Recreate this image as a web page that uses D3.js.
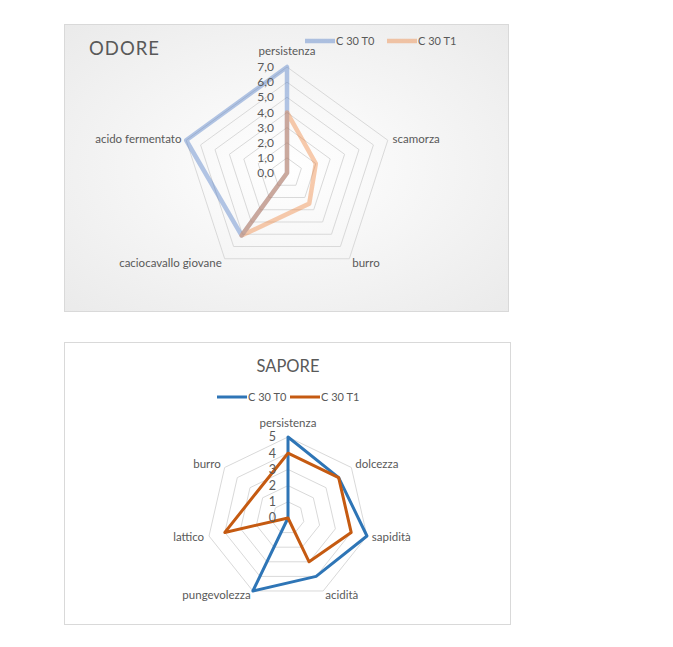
<!DOCTYPE html>
<html>
<head>
<meta charset="utf-8">
<title>Odore / Sapore</title>
<script src="https://cdn.jsdelivr.net/npm/d3@7"></script>
<style>
body{
  margin:0;
  background:#fff}

svg{
  display:block}

text{
  font-family: Lato, "Open Sans", sans-serif;
  fill:#595959}

.ring{
  fill:none;
  stroke:#d9d9d9;
  stroke-width:1}
</style>
</head>
<body>
<script>
// Data.
const seriesNames = ['C 30 T0', 'C 30 T1']

const odoreAxes = ['persistenza', 'scamorza', 'burro', 'caciocavallo giovane', 'acido fermentato']
const odoreT0 = [7, 0, 0, 5.1, 7]
const odoreT1 = [4, 2, 2.5, 5.1, 0]
const odoreTicks = [0, 1, 2, 3, 4, 5, 6, 7]

const saporeAxes = ['persistenza', 'dolcezza', 'sapidità', 'acidità', 'pungevolezza', 'lattico', 'burro']
const saporeT0 = [5, 4, 5, 4, 5, 0, 0]
const saporeT1 = [4, 4, 4, 3, 0, 4, 2.5]
const saporeTicks = [0, 1, 2, 3, 4, 5]

const svg = d3.select('body')
  .append('svg')
    .attr('width', 673)
    .attr('height', 647)

// Background gradient for the top chart.
const grad = svg.append('defs')
  .append('radialGradient')
    .attr('id', 'bg')
    .attr('cx', '50%').attr('cy', '50%').attr('r', '75%')
grad.append('stop').attr('offset', '0%').attr('stop-color', '#ffffff')
grad.append('stop').attr('offset', '100%').attr('stop-color', '#e9e9e9')

// Draw one radar chart.
const drawRadar = opt => {
  const g = svg.append('g')
  const n = opt.axes.length
  const r = d3.scaleLinear().domain([0, d3.max(opt.ticks)]).range([0, opt.radius])
  const angle = d3.scaleLinear().domain([0, n]).range([0, 2 * Math.PI])
  const pt = (i, v) => [opt.cx + r(v) * Math.sin(angle(i)), opt.cy - r(v) * Math.cos(angle(i))]

  // Rings.
  g.selectAll('.ring')
    .data(opt.ticks.filter(t => t > 0))
    .enter().append('polygon')
      .attr('class', 'ring')
      .attr('points', t => d3.range(n).map(i => pt(i, t).join(',')).join(' '))

  // Series.
  const line = d3.line().curve(d3.curveLinearClosed)
  opt.series.forEach((s, k) => {
    g.append('path')
      .attr('d', line(s.map((v, i) => pt(i, v))))
      .style('fill', 'none')
      .style('stroke', opt.colors[k])
      .style('stroke-opacity', opt.opacity)
      .style('stroke-width', opt.lineWidth)
      .style('stroke-linejoin', 'round')
      .style('stroke-linecap', 'round')
  })

  // Tick labels.
  g.selectAll('.tick')
    .data(opt.ticks)
    .enter().append('text')
      .attr('x', opt.cx - opt.tickGap)
      .attr('y', t => opt.cy - r(t))
      .attr('dy', '0.35em')
      .style('text-anchor', 'end')
      .style('font-size', opt.tickSize + 'px')
      .text(opt.tickFormat)

  // Category labels.
  const lr = opt.radius + 5
  g.selectAll('.cat')
    .data(opt.axes)
    .enter().append('text')
      .attr('x', (d, i) => opt.cx + lr * Math.sin(angle(i)))
      .attr('y', (d, i) => i === 0 ? opt.cy - opt.radius - opt.topGap : opt.cy - lr * Math.cos(angle(i)) + 4)
      .style('text-anchor', (d, i) => {
        const s = Math.sin(angle(i))
        return Math.abs(s) < 0.05 ? 'middle' : (s > 0 ? 'start' : 'end')
      })
      .style('font-size', '11.5px')
      .text(d => d)
}

// Legend.
const drawLegend = (x, y, gap, colors, opacity, width) => {
  seriesNames.forEach((name, k) => {
    const x0 = x + k * gap
    svg.append('line')
      .attr('x1', x0).attr('x2', x0 + 30)
      .attr('y1', y).attr('y2', y)
      .style('stroke', colors[k])
      .style('stroke-opacity', opacity)
      .style('stroke-width', width)
    svg.append('text')
      .attr('x', x0 + 31)
      .attr('y', y + 4)
      .style('font-size', '11px')
      .text(name)
  })
}

// ODORE chart.
svg.append('rect')
  .attr('x', 64.5).attr('y', 24.5)
  .attr('width', 444).attr('height', 287)
  .style('fill', 'url(#bg)')
  .style('stroke', '#d9d9d9')

svg.append('text')
  .attr('x', 89)
  .attr('y', 55)
  .style('font-size', '18.5px')
  .style('letter-spacing', '1px')
  .text('ODORE')

drawRadar({
  axes: odoreAxes,
  series: [odoreT0, odoreT1],
  ticks: odoreTicks,
  cx: 287, cy: 173, radius: 106,
  colors: ['#4472c4', '#ed7d31'],
  opacity: 0.4,
  lineWidth: 4.5,
  tickSize: 12,
  tickGap: 13,
  topGap: 12,
  tickFormat: t => d3.format('.1f')(t).replace('.', ',')
})

drawLegend(305, 41, 82, ['#4472c4', '#ed7d31'], 0.4, 4.5)

// SAPORE chart.
svg.append('rect')
  .attr('x', 64.5).attr('y', 342.5)
  .attr('width', 446).attr('height', 282)
  .style('fill', '#fff')
  .style('stroke', '#d9d9d9')

svg.append('text')
  .attr('x', 288)
  .attr('y', 372)
  .style('font-size', '16.5px')
  .style('text-anchor', 'middle')
  .text('SAPORE')

drawRadar({
  axes: saporeAxes,
  series: [saporeT0, saporeT1],
  ticks: saporeTicks,
  cx: 288, cy: 518, radius: 81,
  colors: ['#2e75b6', '#c55a11'],
  opacity: 1,
  lineWidth: 3,
  tickSize: 12.5,
  tickGap: 12,
  topGap: 10,
  tickFormat: t => t
})

drawLegend(217, 397, 73, ['#2e75b6', '#c55a11'], 1, 3)
</script>
</body>
</html>
